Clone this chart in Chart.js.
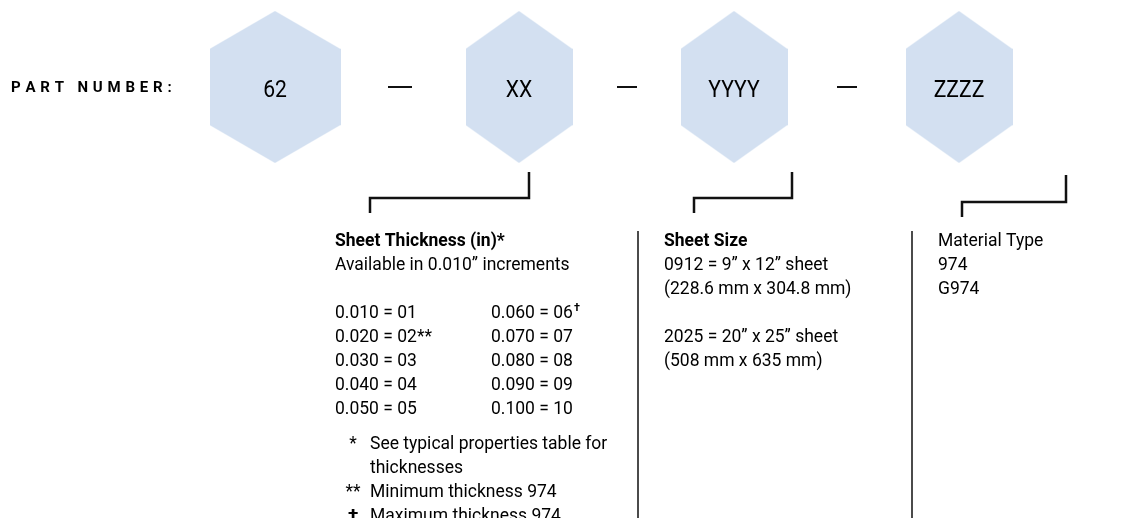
<!DOCTYPE html>
<html>
<head>
<meta charset="utf-8">
<script src="https://cdn.jsdelivr.net/npm/chart.js@4.4.1/dist/chart.umd.min.js"></script>
<style>
html, body { margin: 0; background: #fff; }
#wrap { width: 1121px; height: 518px; }
</style>
</head>
<body>
<div id="wrap"><canvas id="partChart"></canvas></div>
<script>
// --- content ---
const prefixLabel = 'PART NUMBER:';
const segments = ['62', 'XX', 'YYYY', 'ZZZZ'];

const thicknessTitle = 'Sheet Thickness (in)*';
const thicknessNote = 'Available in 0.010\u201D increments';
const thicknessValues = ['0.010', '0.020', '0.030', '0.040', '0.050', '0.060', '0.070', '0.080', '0.090', '0.100'];
const thicknessCodes = ['01', '02', '03', '04', '05', '06', '07', '08', '09', '10'];
const thicknessMarks = ['', '**', '', '', '', '\u2020', '', '', '', ''];
const footnoteMarks = ['*', '**', '\u2020'];
const footnoteTexts = [['See typical properties table for', 'thicknesses'], ['Minimum thickness 974'], ['Maximum thickness 974']];

const sizeTitle = 'Sheet Size';
const sizeCodes = ['0912', '2025'];
const sizeInches = ['9\u201D x 12\u201D sheet', '20\u201D x 25\u201D sheet'];
const sizeMetric = ['(228.6 mm x 304.8 mm)', '(508 mm x 635 mm)'];

const materialTitle = 'Material Type';
const materialCodes = ['974', 'G974'];

// --- layout (in scale units = pixels) ---
const L = {
    hexX: [275, 519, 734, 959], hexY: 87,
    hexHalfW: [65.5, 53.5, 53.5, 53.5], hexHalfH: 76,
    dashX: [400, 627, 847], dashR: [12, 10, 10],
    brackets: [
        { xr: 529, top: 172, y: 198, xl: 370, bottom: 213 },
        { xr: 792, top: 172, y: 198, xl: 694, bottom: 213 },
        { xr: 1066, top: 175, y: 202, xl: 962, bottom: 217 }
    ],
    separators: [638, 912], sepTop: 231, sepBottom: 518,
    col1: 335, col1b: 491, col2: 664, col3: 938,
    noteMarkX: 353, noteTextX: 370,
    lineH: 24, firstBase: 246, listBase: 318, noteBase: 449
};
const HEX_COLOR = '#D3E0F1';
const INK = '#111';
const TEXT = '#000';
const FONT = 'Roboto, "Liberation Sans", sans-serif';
const BODY = '17.5px ';

function hexImage(hw, hh) {
    const c = document.createElement('canvas');
    c.width = Math.round(hw * 2); c.height = hh * 2;
    const ctx = c.getContext('2d');
    ctx.fillStyle = HEX_COLOR;
    ctx.beginPath();
    ctx.moveTo(hw, 0);
    ctx.lineTo(hw * 2, hh / 2);
    ctx.lineTo(hw * 2, hh * 1.5);
    ctx.lineTo(hw, hh * 2);
    ctx.lineTo(0, hh * 1.5);
    ctx.lineTo(0, hh / 2);
    ctx.closePath();
    ctx.fill();
    return c;
}

const lineDs = (pts, w) => ({
    type: 'line', data: pts, showLine: true, borderColor: INK, borderWidth: w,
    pointRadius: 0, fill: false, tension: 0, borderJoinStyle: 'miter', borderCapStyle: 'butt', clip: false
});

const datasets = [
    {
        data: segments.map((s, i) => ({ x: L.hexX[i], y: L.hexY })),
        pointStyle: L.hexHalfW.map(hw => hexImage(hw, L.hexHalfH)),
        pointRadius: 1, clip: false
    },
    {
        data: L.dashX.map(x => ({ x, y: L.hexY })),
        pointStyle: 'line', pointRadius: L.dashR,
        pointBorderColor: INK, pointBorderWidth: 2, clip: false
    },
    ...L.brackets.map(b => lineDs([
        { x: b.xr, y: b.top }, { x: b.xr, y: b.y }, { x: b.xl, y: b.y }, { x: b.xl, y: b.bottom }
    ], 2.5)),
    ...L.separators.map(x => lineDs([{ x, y: L.sepTop }, { x, y: L.sepBottom }], 1.5))
];

const textPlugin = {
    id: 'partText',
    afterDatasetsDraw(chart) {
        const ctx = chart.ctx, xs = chart.scales.x, ys = chart.scales.y;
        const px = v => xs.getPixelForValue(v), py = v => ys.getPixelForValue(v);
        ctx.save();
        ctx.fillStyle = TEXT;
        ctx.textBaseline = 'alphabetic';

        // PART NUMBER: spaced letters
        ctx.font = 'bold 15px ' + FONT;
        ctx.textAlign = 'left';
        let x = px(11);
        const spacing = 4.8;
        for (const ch of prefixLabel) {
            ctx.fillText(ch, x, py(92));
            x += ctx.measureText(ch).width + spacing;
        }

        // labels inside hexagons
        ctx.font = '24px ' + FONT;
        ctx.textAlign = 'center';
        segments.forEach((s, i) => {
            ctx.save();
            ctx.translate(px(L.hexX[i]), py(97));
            ctx.scale(0.88, 1);
            ctx.fillText(s, 0, 0);
            ctx.restore();
        });

        ctx.textAlign = 'left';
        const base = L.firstBase, lh = L.lineH;
        const line = (txt, cx, y, bold) => {
            ctx.font = (bold ? 'bold ' : '') + BODY + FONT;
            ctx.fillText(txt, px(cx), py(y));
        };

        // thickness column
        line(thicknessTitle, L.col1, base, true);
        line(thicknessNote, L.col1, base + lh);
        thicknessValues.forEach((v, i) => {
            const col = i < 5 ? L.col1 : L.col1b;
            const y = L.listBase + (i % 5) * lh;
            const txt = v + ' = ' + thicknessCodes[i];
            line(txt, col, y);
            const m = thicknessMarks[i];
            if (m) {
                const w = ctx.measureText(txt).width;
                if (m === '\u2020') {
                    ctx.font = 'bold 11px ' + FONT;
                    ctx.fillText(m, px(col) + w + 1, py(y - 7));
                } else {
                    ctx.fillText(m, px(col) + w, py(y));
                }
            }
        });
        let ny = L.noteBase;
        footnoteMarks.forEach((m, i) => {
            ctx.font = (m === '\u2020' ? 'bold 19px ' : BODY) + FONT;
            ctx.textAlign = 'center';
            ctx.fillText(m, px(L.noteMarkX), py(ny + (m === '\u2020' ? 1 : 0)));
            ctx.textAlign = 'left';
            footnoteTexts[i].forEach(t => { line(t, L.noteTextX, ny); ny += lh; });
        });

        // sheet size column
        line(sizeTitle, L.col2, base, true);
        sizeCodes.forEach((c, i) => {
            const y0 = base + lh + i * 3 * lh;
            line(c + ' = ' + sizeInches[i], L.col2, y0);
            line(sizeMetric[i], L.col2, y0 + lh);
        });

        // material column
        line(materialTitle, L.col3, base);
        materialCodes.forEach((c, i) => line(c, L.col3, base + (i + 1) * lh));

        ctx.restore();
    }
};

new Chart(document.getElementById('partChart'), {
    type: 'scatter',
    data: { datasets },
    options: {
        responsive: true,
        maintainAspectRatio: false,
        animation: false,
        events: [],
        layout: { padding: 0, autoPadding: false },
        plugins: { legend: { display: false }, tooltip: { enabled: false } },
        scales: {
            x: { type: 'linear', min: 0, max: 1121, display: false },
            y: { type: 'linear', min: 0, max: 518, reverse: true, display: false }
        }
    },
    plugins: [textPlugin]
});
</script>
</body>
</html>
